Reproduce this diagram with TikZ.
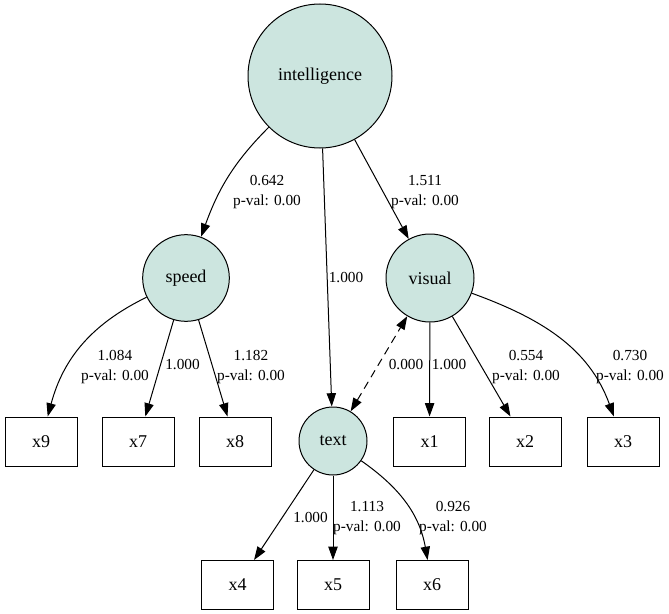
\documentclass[tikz,border=0pt]{standalone}
\usepackage{fontspec}
\setmainfont{Liberation Serif}
\usetikzlibrary{arrows.meta}
\definecolor{latentfill}{RGB}{204,229,223}

\begin{document}
\begin{tikzpicture}[x=0.75pt,y=-0.75pt,>={Triangle[length=10pt,width=7pt]},
  latent/.style={draw,circle,fill=latentfill,inner sep=0pt,line width=0.75pt,font=\fontsize{13.5}{16}\selectfont},
  obs/.style={draw,rectangle,minimum width=54pt,minimum height=36.75pt,inner sep=0pt,line width=0.75pt,font=\fontsize{13.5}{16}\selectfont},
  lbl/.style={align=center,inner sep=0pt,font=\fontsize{11.5}{15}\selectfont},
  link/.style={draw,line width=0.75pt,->}]
\useasboundingbox (0,0) rectangle (669,614);

\node[latent,minimum size=108pt] (intelligence) at (320,76) {intelligence};
\node[latent,minimum size=65pt] (speed) at (186,278) {speed};
\node[latent,minimum size=66pt] (visual) at (430,278) {visual};
\node[latent,minimum size=51pt] (text) at (333,441) {text};

\node[obs] (x9) at (41,441.5) {x9};
\node[obs] (x7) at (138,441.5) {x7};
\node[obs] (x8) at (235,441.5) {x8};
\node[obs] (x1) at (429.5,441.5) {x1};
\node[obs] (x2) at (525,441.5) {x2};
\node[obs] (x3) at (623,441.5) {x3};
\node[obs] (x4) at (237.5,585) {x4};
\node[obs] (x5) at (333,585) {x5};
\node[obs] (x6) at (432,585) {x6};

\path[link] (intelligence) to[out=225,in=70] (speed);
\path[link] (intelligence) -- (visual);
\path[link] (intelligence) -- (text);
\path[link] (speed) to[out=206,in=75] (x9);
\path[link] (speed) -- (x7);
\path[link] (speed) -- (x8);
\path[link] (visual) -- (x1);
\path[link] (visual) -- (x2);
\path[link] (visual) to[out=340,in=110] (x3);
\path[draw,line width=0.75pt,dash pattern=on 6pt off 4pt,<->] (text) -- (visual);
\path[link] (text) -- (x4);
\path[link] (text) -- (x5);
\path[link] (text) to[out=325,in=100] (x6);

\node[lbl] (l642) at (267,192) {0.642\\p-val: 0.00};
\node[lbl] (l1511) at (425,192) {1.511\\p-val: 0.00};
\node[lbl] (lit) at (346,278) {1.000};
\node[lbl] (l1084) at (115,367) {1.084\\p-val: 0.00};
\node[lbl] (lx7) at (182.5,365) {1.000};
\node[lbl] (l1182) at (251,367) {1.182\\p-val: 0.00};
\node[lbl] (ltv) at (406,365) {0.000};
\node[lbl] (lx1) at (449,365) {1.000};
\node[lbl] (l554) at (526,367) {0.554\\p-val: 0.00};
\node[lbl] (l730) at (630,367) {0.730\\p-val: 0.00};
\node[lbl] (lx4) at (310.5,518) {1.000};
\node[lbl] (l1113) at (367,518) {1.113\\p-val: 0.00};
\node[lbl] (l926) at (453,518) {0.926\\p-val: 0.00};
\end{tikzpicture}
\end{document}
